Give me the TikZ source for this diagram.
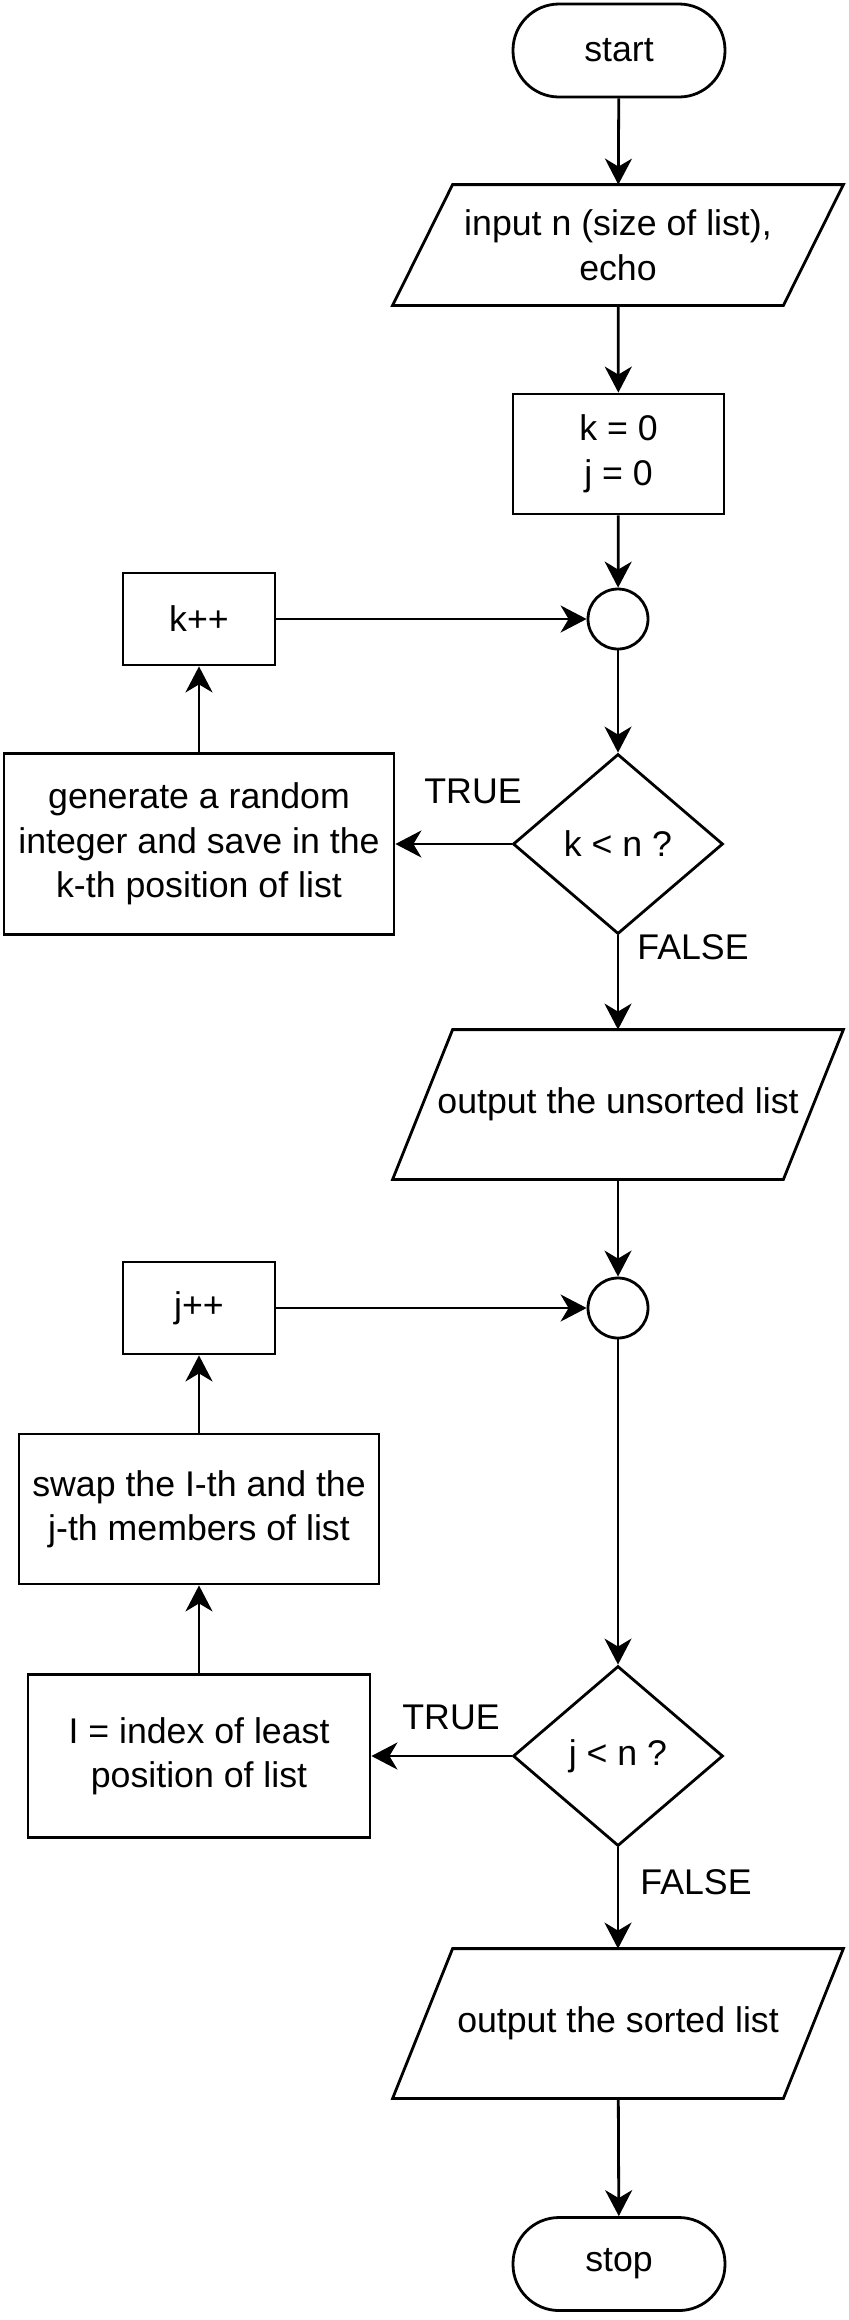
\documentclass[tikz,border=0pt]{standalone}
\usepackage{fontspec}
\setmainfont{Liberation Sans}
\usetikzlibrary{shapes.geometric,arrows.meta}
\tikzset{>={Stealth[length=13pt,width=13.5pt,inset=4pt]}}
\tikzset{
  txt/.style={inner sep=0pt,align=center,font=\fontsize{17.85pt}{22.25pt}\selectfont},
  blk/.style={txt,draw,line width=1.4pt},
  term/.style={blk,rectangle,rounded corners=23pt,minimum width=106pt,minimum height=46.5pt},
  box/.style={blk,rectangle},
  io/.style={txt,minimum width=225pt,minimum height=#1},
  test/.style={blk,diamond,minimum width=105pt,minimum height=90pt},
  merge/.style={blk,circle,minimum size=30pt},
  lbl/.style={txt}
}

\begin{document}
\begin{tikzpicture}[x=0.5pt,y=-0.5pt]
    \useasboundingbox (0,0) rectangle (848,2320);
    % main column
    \node[term] (start) at (619,50.5) {start};
    \node[io=60pt] (in) at (618,245) {input n (size of list),\\echo};
    \node[box,minimum width=105.5pt,minimum height=60pt] (init) at (618.5,454) {k = 0\\j = 0};
    \node[merge] (c1) at (618,619) {};
    \node[test] (d1) at (618,844) {k < n ?};
    \node[io=74.5pt] (out1) at (618,1104.5) {output the unsorted list};
    \node[merge] (c2) at (618,1308) {};
    \node[test] (d2) at (618,1756) {j < n ?};
    \node[io=74.5pt] (out2) at (618,2023.5) {output the sorted list};
    \node[term] (stop) at (619,2264) {stop};
    % loop bodies
    \node[box,minimum width=76pt,minimum height=46pt] (kinc) at (199,619) {k++};
    \node[box,minimum width=195pt,minimum height=90.5pt] (gen) at (199,844) {generate a random\\integer and save in the\\k-th position of list};
    \node[box,minimum width=76pt,minimum height=46pt] (jinc) at (199,1308) {j++};
    \node[box,minimum width=180pt,minimum height=75pt] (swap) at (199,1509) {swap the I-th and the\\j-th members of list};
    \node[box,minimum width=171pt,minimum height=81.5pt] (least) at (199,1756) {I = index of least\\position of list};
    % branch labels
    \node[lbl] (t1) at (473,791) {TRUE};
    \node[lbl] (f1) at (693,947) {FALSE};
    \node[lbl] (t2) at (451,1717) {TRUE};
    \node[lbl] (f2) at (696,1882) {FALSE};
    % input/output shapes
    \foreach\n in {in,out1,out2}{
     \draw[line width=1.4pt] ([xshift=30pt]\n.north west) -- (\n.north east)
       -- ([xshift=-30pt]\n.south east) -- (\n.south west) -- cycle;}
    % connectors
    \foreach\a/\b in {start/in,in/init,init/c1,kinc/c1,c1/d1,d1/gen,gen/kinc,d1/out1,
      out1/c2,jinc/c2,c2/d2,d2/least,least/swap,swap/jinc,d2/out2,out2/stop}{
     \draw[->,line width=1.4pt] (\a) -- (\b);}
  \end{tikzpicture}
\end{document}
